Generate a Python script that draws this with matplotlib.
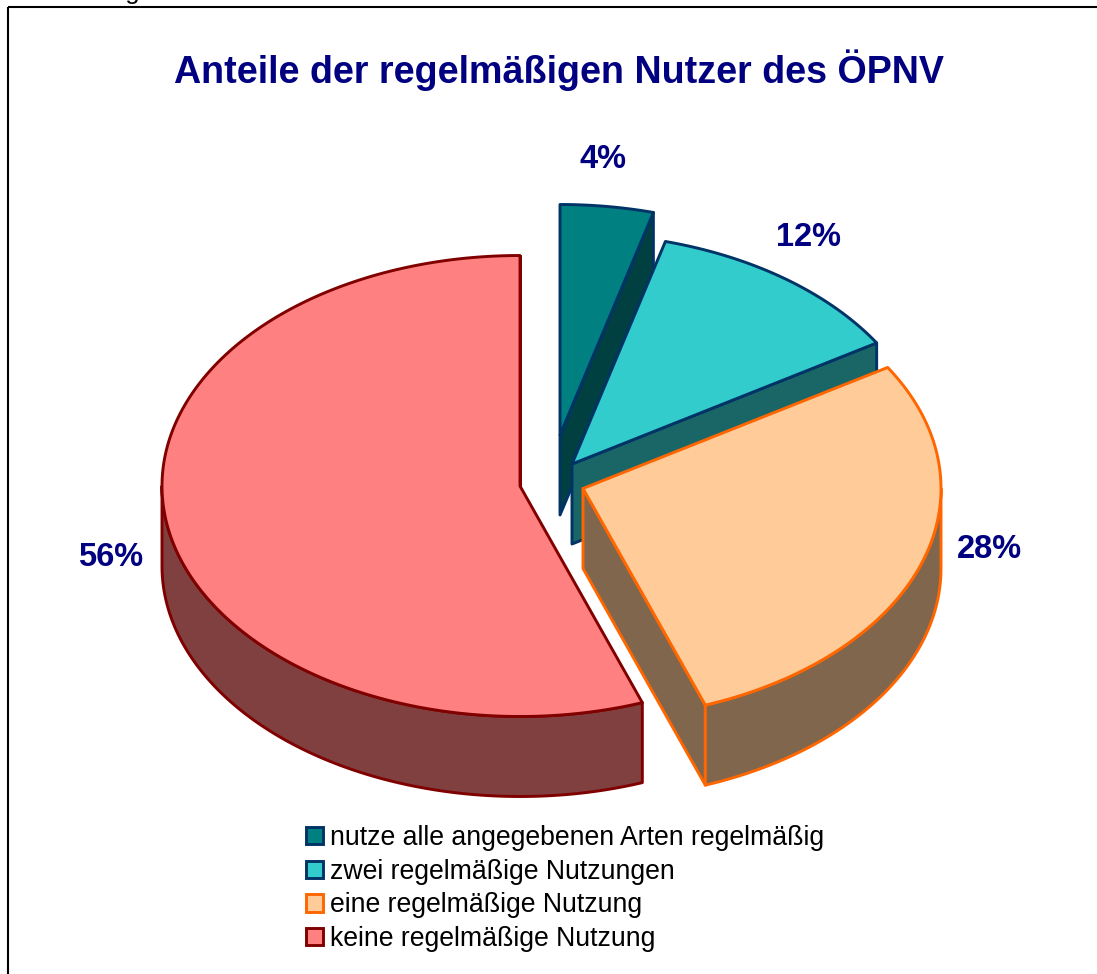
#!/usr/bin/env python3
"""Exploded 3D-look pie: Anteile der regelmaessigen Nutzer des OEPNV."""
import numpy as np
import matplotlib; matplotlib.use("Agg"); import matplotlib.pyplot as plt
from matplotlib.patches import Polygon, Patch, Rectangle

plt.rcParams["font.family"] = ["Liberation Sans", "DejaVu Sans"]

# shares as measured from the slice angles; labels show them rounded
categories = ["nutze alle angegebenen Arten regelmäßig", "zwei regelmäßige Nutzungen",
              "eine regelmäßige Nutzung", "keine regelmäßige Nutzung"]
shares = [4.2, 12.0, 28.25, 55.55]
labels = ["4%", "12%", "28%", "56%"]
title = "Anteile der regelmäßigen Nutzer des ÖPNV"

# styles and layout (pixels of the 1097x974 canvas)
top_col = ["#008080", "#33CCCC", "#FFCC99", "#FF8080"]
side_col = ["#004040", "#1A6666", "#80664D", "#804040"]
edge_col = ["#003366", "#003366", "#FF6600", "#800000"]
explode = [(40, -51), (52, -22), (63, 2.5), (0, 0)]
label_pos = [(603, 160), (809, 237), (989, 549), (111, 558)]
CX, CY, RX, RY, DEPTH = 520, 486, 358, 230.5, 80
LW = 2.1
NAVY = "#000080"

fig = plt.figure(figsize=(10.97, 9.74), dpi=100)
ax = fig.add_axes([0, 0, 1, 1])
ax.set_xlim(0, 1097); ax.set_ylim(974, 0); ax.axis("off")

# outer frame runs off the right and bottom of the picture
ax.add_patch(Rectangle((8, 6.5), 1200, 1200, fill=False, ec="black", lw=1.5, clip_on=True))
# caption above the frame, only its descenders are left in the crop
ax.text(25, -1, "Abbildung 15", fontsize=18.5, color="black", va="baseline", ha="left", clip_on=True)


def rim(cx, cy, a, b, n=240, dz=0):
    t = np.radians(np.linspace(a, b, n))
    return np.column_stack([cx + RX * np.sin(t), cy - RY * np.cos(t) + dz])


def poly(pts, fc, ec, z):
    ax.add_patch(Polygon(pts, closed=True, fc=fc, ec=ec, lw=LW, joinstyle="round", zorder=z))


start = 0.0
total = sum(shares)
for i, share in enumerate(shares):
    end = start + share / total * 360
    cx, cy = CX + explode[i][0], CY + explode[i][1]
    z = 2 + i * 3 if i < 3 else 1
    apex = np.array([[cx, cy]])
    # cut face at the clockwise end of the slice
    end_pt = rim(cx, cy, end, end, 1)
    poly(np.vstack([apex, end_pt, end_pt + [0, DEPTH], apex + [0, DEPTH]]), side_col[i], edge_col[i], z)
    # outer wall, only the part facing the viewer
    a, b = max(start, 90), min(end, 270)
    if b > a:
        poly(np.vstack([rim(cx, cy, a, b), rim(cx, cy, b, a, dz=DEPTH)]), side_col[i], edge_col[i], z + 0.5)
    # top surface
    poly(np.vstack([apex, rim(cx, cy, start, end), apex]), top_col[i], edge_col[i], z + 1)
    ax.text(*label_pos[i], labels[i], fontsize=23.5, fontweight="bold", color=NAVY,
            ha="center", va="center", zorder=20)
    start = end

ax.text(558.5, 70, title, fontsize=27.1, fontweight="bold", color=NAVY, ha="center", va="center")

handles = [Patch(fc=top_col[i], ec=edge_col[i], lw=LW) for i in range(4)]
ax.legend(handles, categories, loc="upper left", bbox_to_anchor=(306 / 1097, 1 - 825 / 974),
          frameon=False, fontsize=19.2, borderpad=0, borderaxespad=0,
          handlelength=0.62, handleheight=0.62, handletextpad=0.28, labelspacing=0.29)

fig.savefig("out.png", dpi=100)
